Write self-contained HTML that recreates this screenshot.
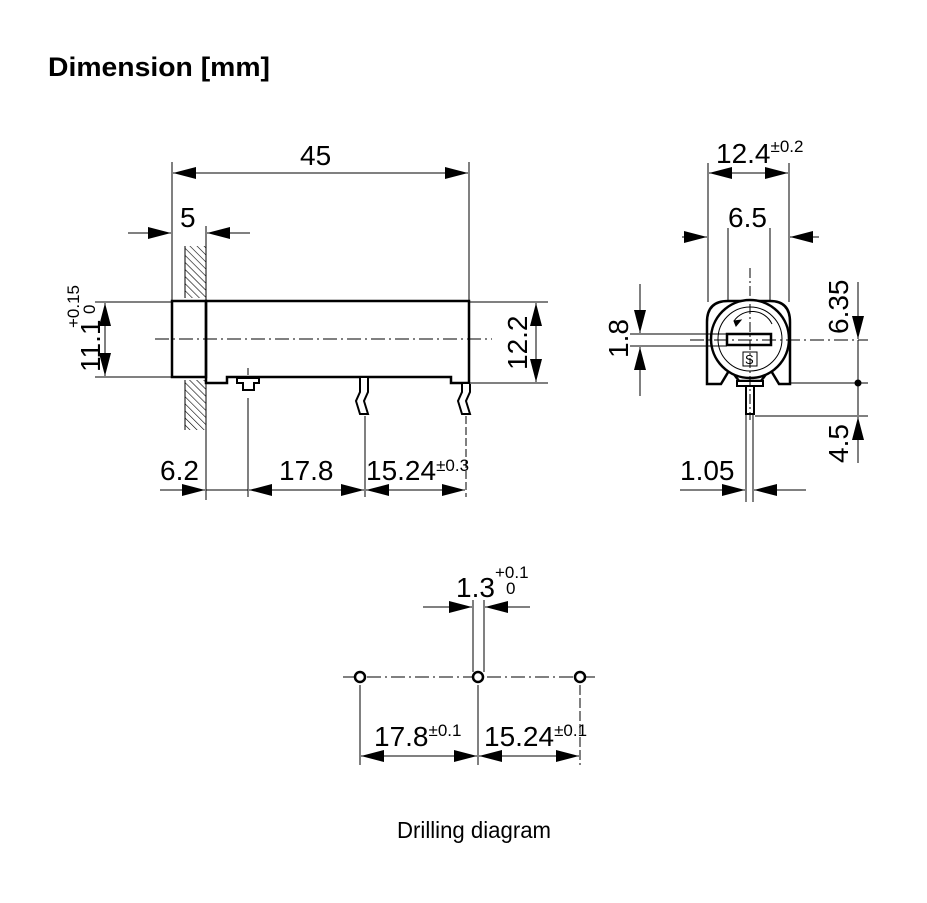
<!DOCTYPE html>
<html><head><meta charset="utf-8"><style>
html,body{margin:0;padding:0;background:#fff;}
svg{display:block;}
text{font-family:"Liberation Sans",Arial,sans-serif;fill:#000;}
</style></head><body>
<svg width="927" height="903" viewBox="0 0 927 903" xmlns="http://www.w3.org/2000/svg">
<defs>
<marker id="a" viewBox="0 0 23 12" refX="23" refY="6" markerWidth="23" markerHeight="12" markerUnits="userSpaceOnUse" orient="auto"><path d="M0,0 L23,6 L0,12 z" fill="#000"/></marker>
<pattern id="h" width="5" height="5" patternUnits="userSpaceOnUse" patternTransform="rotate(-45)"><line x1="0" y1="0" x2="0" y2="5" stroke="#000" stroke-width="1.2"/></pattern>
</defs>
<text x="48" y="76" font-size="27" font-weight="bold" textLength="222" lengthAdjust="spacingAndGlyphs">Dimension [mm]</text>

<g stroke="#000" stroke-width="1" fill="none">
<!-- 45 -->
<line x1="172" y1="162" x2="172" y2="300"/>
<line x1="469" y1="162" x2="469" y2="300"/>
<line x1="320" y1="173" x2="173" y2="173" marker-end="url(#a)"/>
<line x1="320" y1="173" x2="468" y2="173" marker-end="url(#a)"/>
<!-- 5 -->
<line x1="206" y1="226" x2="206" y2="300"/>
<line x1="128" y1="233" x2="171" y2="233" marker-end="url(#a)"/>
<line x1="250" y1="233" x2="207" y2="233" marker-end="url(#a)"/>
<!-- wall -->
<rect x="185" y="246" width="21" height="52" fill="url(#h)" stroke="none"/>
<rect x="185" y="380" width="21" height="50" fill="url(#h)" stroke="none"/>
<line x1="185" y1="246" x2="185" y2="298"/>
<line x1="185" y1="380" x2="185" y2="430"/>
<line x1="206" y1="246" x2="206" y2="500"/>
<!-- body -->
<rect x="172" y="301" width="34" height="76" stroke-width="2.5" fill="#fff"/>
<path d="M206,301 H469 V383 H451 V377 H227 V383 H206 Z" stroke-width="2.5"/>
<path d="M237,378 H259 V383 H254 V390 H243 V383 H237 Z" stroke-width="2"/>
<line x1="155" y1="339" x2="492" y2="339" stroke-dasharray="14,4,2,4"/>
<!-- pins -->
<path d="M360,378 V392 L356,401 L360,414 H368 L364,401 L368,392 V378" stroke-width="2" fill="#fff"/>
<path d="M462,384 V392 L458,401 L462,414 H470 L466,401 L470,392 V384" stroke-width="2" fill="#fff"/>
<line x1="248" y1="368" x2="248" y2="375"/>
<line x1="248" y1="398" x2="248" y2="497"/>
<line x1="365" y1="416" x2="365" y2="497"/>
<line x1="466" y1="416" x2="466" y2="497" stroke-dasharray="8,3"/>
<!-- 11.1 -->
<line x1="95" y1="302" x2="172" y2="302"/>
<line x1="95" y1="377" x2="172" y2="377"/>
<line x1="105" y1="340" x2="105" y2="303" marker-end="url(#a)"/>
<line x1="105" y1="340" x2="105" y2="376" marker-end="url(#a)"/>
<!-- 12.2 -->
<line x1="469" y1="302" x2="548" y2="302"/>
<line x1="469" y1="383" x2="548" y2="383"/>
<line x1="536" y1="342" x2="536" y2="303" marker-end="url(#a)"/>
<line x1="536" y1="342" x2="536" y2="382" marker-end="url(#a)"/>
<!-- bottom dims -->
<line x1="160" y1="490" x2="205" y2="490" marker-end="url(#a)"/>
<line x1="206" y1="490" x2="248" y2="490"/>
<line x1="306" y1="490" x2="249" y2="490" marker-end="url(#a)"/>
<line x1="306" y1="490" x2="364" y2="490" marker-end="url(#a)"/>
<line x1="415" y1="490" x2="366" y2="490" marker-end="url(#a)"/>
<line x1="415" y1="490" x2="465" y2="490" marker-end="url(#a)"/>
</g>
<g font-size="28">
<text x="300" y="165">45</text>
<text x="180" y="227">5</text>
<text x="160" y="480">6.2</text>
<text x="279" y="480">17.8</text>
<text x="366" y="480">15.24<tspan font-size="17" dy="-9">±0.3</tspan></text>
<text transform="translate(100,372) rotate(-90)">11.1</text>
<text transform="translate(79,328) rotate(-90)" font-size="17">+0.15</text>
<text transform="translate(95,314) rotate(-90)" font-size="17">0</text>
<text transform="translate(527,370) rotate(-90)">12.2</text>
</g>

<!-- side view -->
<g stroke="#000" stroke-width="1" fill="none">
<line x1="708" y1="163" x2="708" y2="302"/>
<line x1="789" y1="163" x2="789" y2="302"/>
<line x1="748" y1="173" x2="709" y2="173" marker-end="url(#a)"/>
<line x1="748" y1="173" x2="788" y2="173" marker-end="url(#a)"/>
<line x1="682" y1="237" x2="707" y2="237" marker-end="url(#a)"/>
<line x1="819" y1="237" x2="790" y2="237" marker-end="url(#a)"/>
<line x1="728" y1="228" x2="728" y2="340"/>
<line x1="770" y1="228" x2="770" y2="340"/>
<path d="M707,384 V322 Q707,301 728,301 H770 Q790,301 790,322 V384 H779 L770,369 L761,381 H739 L730,369 L721,384 Z" stroke-width="2.5" fill="#fff"/>
<circle cx="750" cy="339" r="39" stroke-width="2.5" fill="#fff"/>
<circle cx="750" cy="339" r="32"/>
<path d="M734,321 A22,22 0 0 1 772,324"/>
<path d="M734,321 l7,-1 l-5,6 z" fill="#000"/>
<rect x="727" y="334" width="44" height="11" stroke-width="2.5"/>
<rect x="743" y="352" width="14" height="14"/>
<text x="745" y="364" font-size="13" stroke="none">S</text>
<path d="M737,381 H763 V386 H737 Z" stroke-width="2" fill="#fff"/>
<path d="M746,386 V414 H754 V386" stroke-width="2"/>
<line x1="750" y1="268" x2="750" y2="420" stroke-dasharray="10,3,2,3"/>
<line x1="690" y1="340" x2="868" y2="340" stroke-dasharray="14,4,2,4"/>
<!-- 1.8 -->
<line x1="630" y1="334" x2="727" y2="334"/>
<line x1="630" y1="346" x2="727" y2="346"/>
<line x1="640" y1="284" x2="640" y2="333" marker-end="url(#a)"/>
<line x1="640" y1="396" x2="640" y2="347" marker-end="url(#a)"/>
<!-- 6.35 / 4.5 -->
<line x1="858" y1="282" x2="858" y2="339" marker-end="url(#a)"/>
<line x1="858" y1="340" x2="858" y2="415"/>
<line x1="858" y1="463" x2="858" y2="417" marker-end="url(#a)"/>
<line x1="790" y1="383" x2="868" y2="383"/>
<line x1="755" y1="416" x2="868" y2="416"/>
<circle cx="858" cy="383" r="3" fill="#000"/>
<!-- 1.05 -->
<line x1="746" y1="414" x2="746" y2="502"/>
<line x1="753" y1="414" x2="753" y2="502"/>
<line x1="680" y1="490" x2="745" y2="490" marker-end="url(#a)"/>
<line x1="806" y1="490" x2="754" y2="490" marker-end="url(#a)"/>
</g>
<g font-size="28">
<text x="716" y="163">12.4<tspan font-size="17" dy="-11">±0.2</tspan></text>
<text x="728" y="227">6.5</text>
<text transform="translate(628,358) rotate(-90)">1.8</text>
<text transform="translate(848,334) rotate(-90)">6.35</text>
<text transform="translate(848,463) rotate(-90)">4.5</text>
<text x="680" y="480">1.05</text>
</g>

<!-- drilling -->
<g stroke="#000" stroke-width="1" fill="none">
<line x1="343" y1="677" x2="595" y2="677" stroke-dasharray="14,4,2,4"/>
<circle cx="360" cy="677" r="5" stroke-width="2.5" fill="#fff"/>
<circle cx="478" cy="677" r="5" stroke-width="2.5" fill="#fff"/>
<circle cx="580" cy="677" r="5" stroke-width="2.5" fill="#fff"/>
<line x1="360" y1="685" x2="360" y2="765"/>
<line x1="478" y1="685" x2="478" y2="765"/>
<line x1="580" y1="685" x2="580" y2="765" stroke-dasharray="10,3"/>
<line x1="473" y1="600" x2="473" y2="672"/>
<line x1="484" y1="600" x2="484" y2="672"/>
<line x1="423" y1="607" x2="472" y2="607" marker-end="url(#a)"/>
<line x1="530" y1="607" x2="485" y2="607" marker-end="url(#a)"/>
<line x1="420" y1="756" x2="361" y2="756" marker-end="url(#a)"/>
<line x1="420" y1="756" x2="477" y2="756" marker-end="url(#a)"/>
<line x1="530" y1="756" x2="479" y2="756" marker-end="url(#a)"/>
<line x1="530" y1="756" x2="579" y2="756" marker-end="url(#a)"/>
</g>
<g font-size="28">
<text x="456" y="597">1.3</text>
<text x="495" y="578" font-size="17">+0.1</text>
<text x="506" y="594" font-size="17">0</text>
<text x="374" y="746">17.8<tspan font-size="17" dy="-10">±0.1</tspan></text>
<text x="484" y="746">15.24<tspan font-size="17" dy="-10">±0.1</tspan></text>
</g>
<text x="397" y="838" font-size="23" textLength="154" lengthAdjust="spacingAndGlyphs">Drilling diagram</text>
</svg>
</body></html>
